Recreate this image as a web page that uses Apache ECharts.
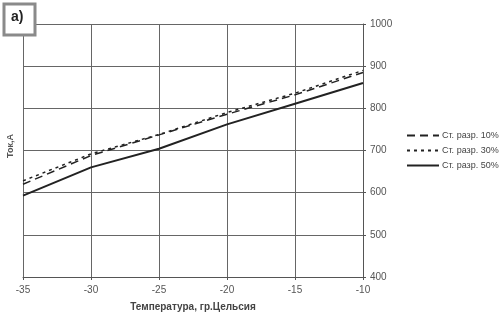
<!DOCTYPE html>
<html>
<head>
<meta charset="utf-8">
<script src="https://cdn.jsdelivr.net/npm/echarts@6/dist/echarts.min.js"></script>
<style>html,body{margin:0;padding:0;background:#fff;}#c{width:500px;height:317px;}</style>
</head>
<body>
<div id="c"></div>
<script>
var temps = [-35, -30, -25, -20, -15, -10];
var s10 = [620, 688, 737, 786, 832, 885];
var s30 = [628, 692, 738, 790, 836, 890];
var s50 = [593, 660, 704, 762, 811, 860];
var names = ['Ст. разр. 10%', 'Ст. разр. 30%', 'Ст. разр. 50%'];
var yTicks = [400, 500, 600, 700, 800, 900, 1000];

function pairs(v){ return temps.map(function(t,i){ return [t, v[i]]; }); }

var chart = echarts.init(document.getElementById('c'));
chart.setOption({
  animation: false,
  backgroundColor: '#fff',
  grid: {left: 23, right: 137, top: 24, bottom: 40},
  legend: {
    orient: 'vertical', left: 401, top: 126, itemWidth: 32, itemHeight: 10, itemGap: 6,
    itemStyle: {opacity: 0},
    textStyle: {fontFamily: 'Liberation Sans, Arial', fontSize: 9, color: '#444', padding: [0,0,0,-2]},
    data: names
  },
  xAxis: {
    type: 'value', min: -35, max: -10, interval: 5,
    name: 'Температура, гр.Цельсия', nameLocation: 'middle', nameGap: 25,
    nameTextStyle: {fontFamily: 'Liberation Sans, Arial', fontSize: 10, fontWeight: 'bold', color: '#444'},
    axisLine: {lineStyle: {color: '#555', width: 1}},
    axisTick: {show: true, length: 3, lineStyle: {color: '#555'}},
    axisLabel: {fontFamily: 'Liberation Sans, Arial', fontSize: 10, color: '#555', margin: 8},
    splitLine: {show: true, lineStyle: {color: '#666', width: 1}}
  },
  yAxis: {
    type: 'value', position: 'right', min: yTicks[0], max: yTicks[yTicks.length-1], interval: 100,
    axisLine: {show: true, lineStyle: {color: '#555', width: 1}},
    axisTick: {show: true, length: 3, lineStyle: {color: '#555'}},
    axisLabel: {fontFamily: 'Liberation Sans, Arial', fontSize: 10, color: '#555', margin: 7,
      formatter: function(v){ return String(v); }},
    splitLine: {show: true, lineStyle: {color: '#666', width: 1}}
  },
  graphic: [
    {type: 'text', left: 6, top: 134, rotation: Math.PI/2,
     style: {text: 'Ток,А', font: 'bold 9px Liberation Sans, Arial', fill: '#555'}},
    {type: 'rect', shape: {x: 4, y: 4, width: 31, height: 31},
     style: {fill: '#fff', stroke: '#8a8a8a', lineWidth: 3}, z: 100},
    {type: 'text', left: 11, top: 10, z: 101,
     style: {text: 'a)', font: 'bold 14px Liberation Sans, Arial', fill: '#222'}}
  ],
  series: [
    {name: names[0], type: 'line', data: pairs(s10), symbol: 'none',
     lineStyle: {color: '#222', width: 1.5, type: [8, 5]}, itemStyle: {color: '#222'}},
    {name: names[1], type: 'line', data: pairs(s30), symbol: 'none',
     lineStyle: {color: '#222', width: 1.5, type: [3, 4]}, itemStyle: {color: '#222'}},
    {name: names[2], type: 'line', data: pairs(s50), symbol: 'none',
     lineStyle: {color: '#222', width: 2}, itemStyle: {color: '#222'}}
  ]
});
</script>
</body>
</html>
